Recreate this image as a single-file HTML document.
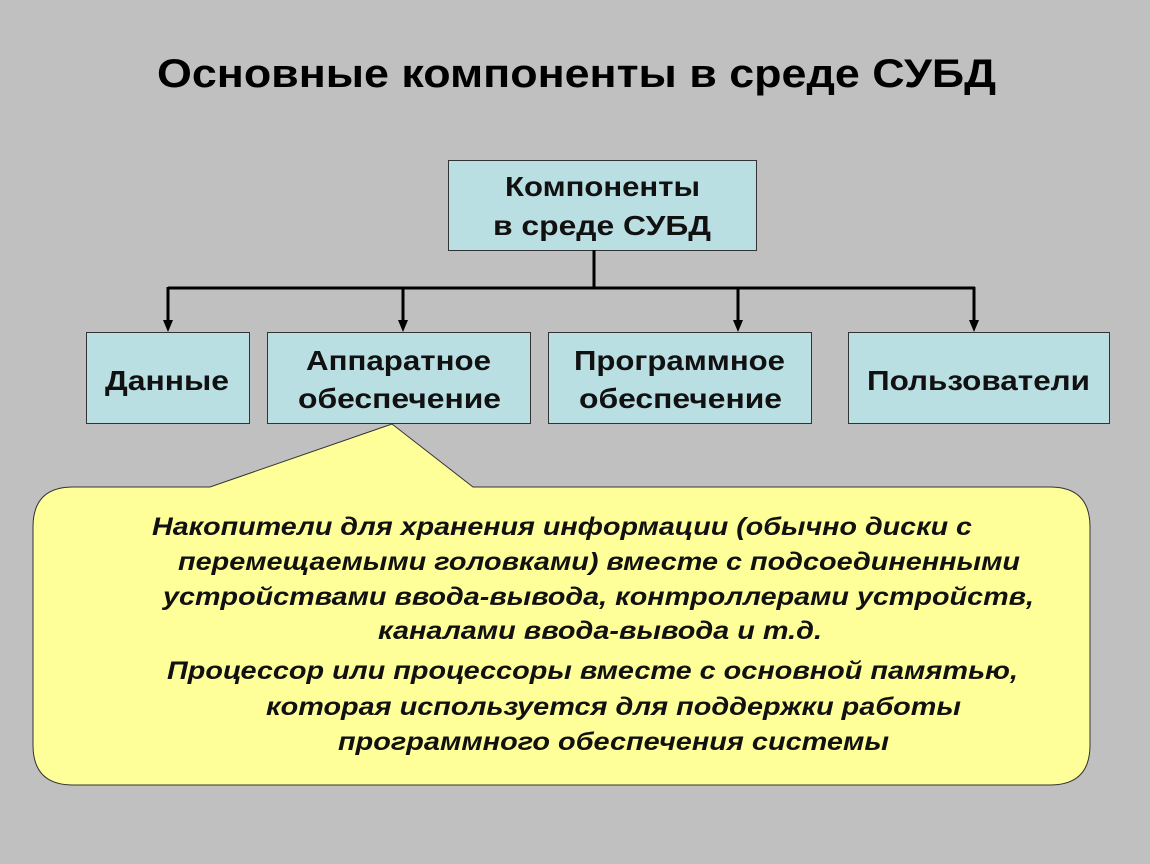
<!DOCTYPE html>
<html><head><meta charset="utf-8"><style>
html,body{margin:0;padding:0;background:#c0c0c0;}
svg{display:block;}
</style></head><body>
<svg width="1150" height="864" viewBox="0 0 1150 864" xmlns="http://www.w3.org/2000/svg" font-family="Liberation Sans, sans-serif">
<rect width="1150" height="864" fill="#c0c0c0"/>
<text x="157" y="87" font-size="40" font-weight="bold" textLength="839" lengthAdjust="spacingAndGlyphs">Основные компоненты в среде СУБД</text>
<g fill="#badfe3" stroke="#333" stroke-width="1">
<rect x="448.5" y="160.5" width="308" height="90"/>
<rect x="86.5" y="332.5" width="163" height="91"/>
<rect x="267.5" y="332.5" width="263" height="91"/>
<rect x="548.5" y="332.5" width="263" height="91"/>
<rect x="848.5" y="332.5" width="261" height="91"/>
</g>
<g font-size="28" font-weight="bold" fill="#111" lengthAdjust="spacingAndGlyphs">
<text x="505" y="196" textLength="195" lengthAdjust="spacingAndGlyphs">Компоненты</text>
<text x="493" y="235" textLength="218" lengthAdjust="spacingAndGlyphs">в среде СУБД</text>
<text x="105" y="390" textLength="124" lengthAdjust="spacingAndGlyphs">Данные</text>
<text x="306" y="370" textLength="185" lengthAdjust="spacingAndGlyphs">Аппаратное</text>
<text x="298" y="408" textLength="203" lengthAdjust="spacingAndGlyphs">обеспечение</text>
<text x="574" y="370" textLength="211" lengthAdjust="spacingAndGlyphs">Программное</text>
<text x="579" y="408" textLength="203" lengthAdjust="spacingAndGlyphs">обеспечение</text>
<text x="867" y="390" textLength="223" lengthAdjust="spacingAndGlyphs">Пользователи</text>
</g>
<g stroke="#000" stroke-width="3" fill="none">
<line x1="594" y1="250" x2="594" y2="288"/>
<line x1="168" y1="288" x2="975" y2="288"/>
<line x1="168" y1="287" x2="168" y2="322"/>
<line x1="403" y1="287" x2="403" y2="322"/>
<line x1="738" y1="287" x2="738" y2="322"/>
<line x1="974" y1="287" x2="974" y2="322"/>
</g>
<g fill="#000">
<polygon points="163,320 173,320 168,332"/>
<polygon points="398,320 408,320 403,332"/>
<polygon points="733,320 743,320 738,332"/>
<polygon points="969,320 979,320 974,332"/>
</g>
<path d="M73,487 L210,487 L392,424 L473,487 L1050,487 Q1090,487 1090,527 L1090,745 Q1090,785 1050,785 L73,785 Q33,785 33,745 L33,527 Q33,487 73,487 Z" fill="#ffff99" stroke="#333" stroke-width="1"/>
<g font-size="25" font-weight="bold" font-style="italic" fill="#111">
<text x="152" y="535" textLength="820" lengthAdjust="spacingAndGlyphs">Накопители для хранения информации (обычно диски с</text>
<text x="178" y="570" textLength="842" lengthAdjust="spacingAndGlyphs">перемещаемыми головками) вместе с подсоединенными</text>
<text x="163" y="605" textLength="871" lengthAdjust="spacingAndGlyphs">устройствами ввода-вывода, контроллерами устройств,</text>
<text x="378" y="639" textLength="444" lengthAdjust="spacingAndGlyphs">каналами ввода-вывода и т.д.</text>
<text x="167" y="679" textLength="851" lengthAdjust="spacingAndGlyphs">Процессор или процессоры вместе с основной памятью,</text>
<text x="266" y="715" textLength="695" lengthAdjust="spacingAndGlyphs">которая используется для поддержки работы</text>
<text x="338" y="750" textLength="551" lengthAdjust="spacingAndGlyphs">программного обеспечения системы</text>
</g>
</svg>
</body></html>
